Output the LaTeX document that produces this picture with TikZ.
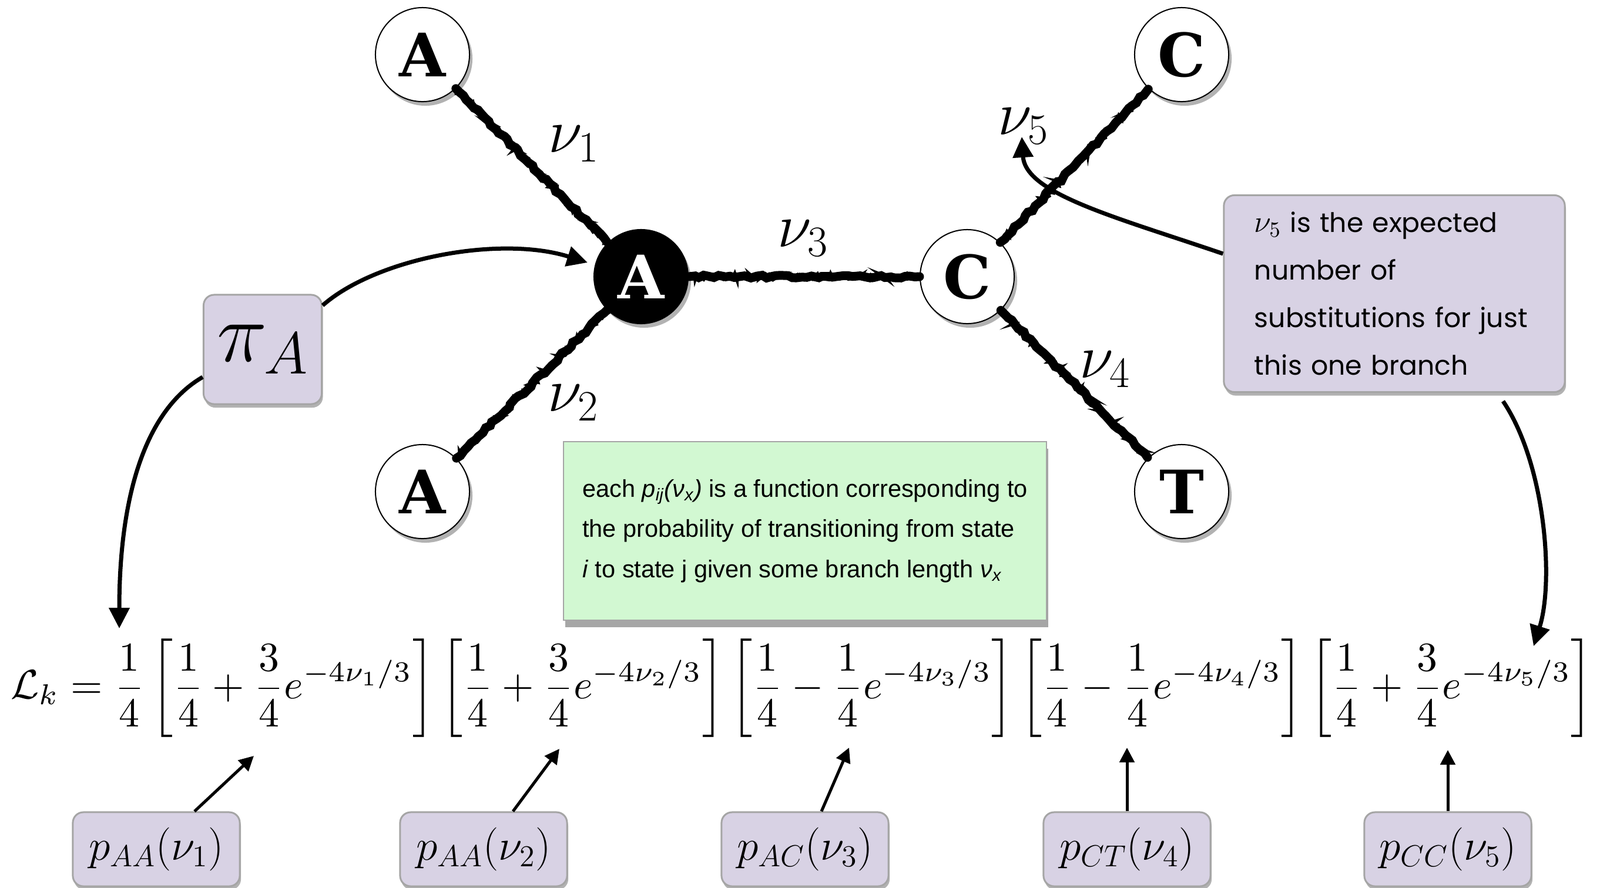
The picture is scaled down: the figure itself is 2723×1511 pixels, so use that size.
\RequirePackage{fix-cm}
\documentclass[tikz,border=0pt]{standalone}
\usepackage{fontspec}
\usetikzlibrary{arrows.meta,shadows,decorations.pathmorphing,calc}
\newfontfamily\helv{Liberation Sans}
\newfontfamily\chalk{Poppins}
\newfontfamily\typew{DejaVu Serif}
\definecolor{lav}{RGB}{216,210,228}
\definecolor{mint}{RGB}{210,248,210}
\definecolor{boxline}{RGB}{165,165,165}
\begin{document}
\begin{tikzpicture}[x=0.01cm,y=-0.01cm,
  leaf/.style={circle, draw=black, line width=0.02cm, fill=white, minimum size=1.6cm, inner sep=0pt,
    font=\typew\bfseries\fontsize{29}{29}\selectfont,
    drop shadow={shadow xshift=0.05cm, shadow yshift=-0.07cm, opacity=0.3, fill=black}},
  innernode/.style={leaf, fill=black, text=white},
  branch/.style={line width=0.15cm, line cap=round, decorate,
    decoration={random steps, segment length=2.5pt, amplitude=0.7pt}},
  branchfine/.style={line width=0.06cm, decorate,
    decoration={random steps, segment length=1.2pt, amplitude=1.4pt}},
  edgelab/.style={font=\fontsize{30}{30}\selectfont, inner sep=0pt},
  lavbox/.style={draw=boxline, line width=0.03cm, fill=lav, rounded corners=0.18cm,
    drop shadow={shadow xshift=0.02cm, shadow yshift=-0.06cm, opacity=0.3, fill=black}},
  pbox/.style={lavbox, minimum width=2.84cm, minimum height=1.26cm, inner sep=0pt,
    font=\fontsize{21}{21}\selectfont},
  ptr/.style={line width=0.05cm, -{Triangle[length=0.25cm,width=0.25cm]}},
  bigptr/.style={line width=0.07cm, -{Triangle[length=0.35cm,width=0.34cm]}}
]
\useasboundingbox (0,0) rectangle (2723,1511);
\fill[white] (0,0) rectangle (2723,1511);

% tree nodes
\node[leaf] (A1) at (719,93) {A};
\node[innernode] (Ai) at (1091,471) {A};
\node[leaf] (Ci) at (1646,471) {C};
\node[leaf] (C1) at (2011,93) {C};
\node[leaf] (A2) at (719,837) {A};
\node[leaf] (T) at (2011,837) {T};

% branches (charcoal look: a thick rough stroke plus a finer ragged one)
\foreach \p/\q in {A1/Ai, A2/Ai, Ai/Ci, Ci/C1, Ci/T}{
  \draw[branch] (\p) -- (\q);
  \draw[branchfine] (\p) -- (\q);
}

% branch labels
\node[edgelab] (l1) at (977,245) {$\nu_1$};
\node[edgelab] (l2) at (976,686) {$\nu_2$};
\node[edgelab] (l3) at (1367,406) {$\nu_3$};
\node[edgelab] (l4) at (1881,629) {$\nu_4$};
\node[edgelab] (l5) at (1742,215) {$\nu_5$};

% pi_A box
\node[lavbox, minimum width=2.01cm, minimum height=1.86cm, inner sep=0pt] (pi) at (447,595)
  {\fontsize{41}{41}\selectfont$\pi_A$};

% green box
\node[draw=boxline, line width=0.02cm, fill=mint, minimum width=8.22cm,
  minimum height=3.03cm, align=left, font=\helv\fontsize{11.8}{19.5}\selectfont,
  drop shadow={shadow xshift=0.03cm, shadow yshift=-0.12cm, opacity=0.35, fill=black}] (gb) at (1370,904)
  {each \textit{p\textsubscript{ij}(ν\textsubscript{x})} is a function corresponding to\\
   the probability of transitioning from state\\
   \textit{i} to state j given some branch length \textit{ν\textsubscript{x}}};

% nu5 box
\node[lavbox, text width=4.76cm, inner xsep=0.52cm, minimum height=3.35cm, align=left,
  font=\chalk\fontsize{13}{23}\selectfont] (v5) at (2373,500)
  {{\fontsize{15}{15}\selectfont$\nu_5$} is the expected\\ number of\\ substitutions for just\\ this one branch};

% equation
\node[anchor=west, inner sep=0pt] (eq) at (18,1172) {\resizebox{26.9cm}{!}{$\displaystyle
  \mathcal{L}_k=\frac{1}{4}\left[\frac{1}{4}+\frac{3}{4}e^{-4\nu_1/3}\right]\left[\frac{1}{4}+\frac{3}{4}e^{-4\nu_2/3}\right]\left[\frac{1}{4}-\frac{1}{4}e^{-4\nu_3/3}\right]\left[\frac{1}{4}-\frac{1}{4}e^{-4\nu_4/3}\right]\left[\frac{1}{4}+\frac{3}{4}e^{-4\nu_5/3}\right]$}};

% bottom boxes
\node[pbox] (b1) at (266,1446) {$p_{AA}(\nu_1)$};
\node[pbox] (b2) at (823,1446) {$p_{AA}(\nu_2)$};
\node[pbox] (b3) at (1370,1446) {$p_{AC}(\nu_3)$};
\node[pbox] (b4) at (1918,1446) {$p_{CT}(\nu_4)$};
\node[pbox] (b5) at (2464,1446) {$p_{CC}(\nu_5)$};

% arrow targets
\coordinate (h1) at (432,1287);
\coordinate (h2) at (952,1275);
\coordinate (h3) at (1445,1273);
\coordinate (h4) at (1918,1273);
\coordinate (h5) at (2464,1277);
\coordinate (k0) at (1000,447);
\coordinate (k1) at (203,1070);
\coordinate (k5) at (1739,233);
\coordinate (k6) at (2610,1100);

\draw[ptr] ($(b1.north)+(65,0)$) -- (h1);
\draw[ptr] ($(b2.north)+(50,0)$) -- (h2);
\draw[ptr] ($(b3.north)+(28,0)$) -- (h3);
\draw[ptr] (b4.north) -- (h4);
\draw[ptr] (b5.north) -- (h5);

% curved arrows
\draw[bigptr] ($(pi.east)+(0,-75)$) .. controls (640,440) and (850,400) .. (k0);
\draw[bigptr] ($(pi.west)+(0,47)$) .. controls (245,700) and (203,850) .. (k1);
\draw[bigptr] ($(v5.west)+(0,-68)$) .. controls (1900,370) and (1745,330) .. (k5);
\draw[bigptr] ($(v5.south)+(185,14)$) .. controls (2630,790) and (2645,990) .. (k6);
\end{tikzpicture}
\end{document}
